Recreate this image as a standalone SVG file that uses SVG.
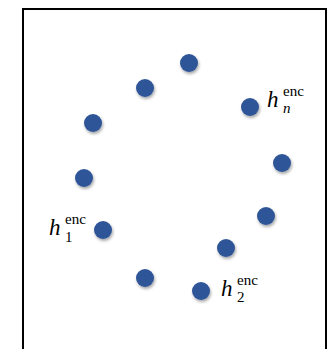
<svg xmlns="http://www.w3.org/2000/svg" width="331" height="349" viewBox="0 0 331 349">
<defs>
<filter id="sh" x="-50%" y="-50%" width="200%" height="200%">
<feDropShadow dx="1" dy="2" stdDeviation="1.5" flood-color="#000" flood-opacity="0.35"/>
</filter>
<style>
.dot{fill:#2F5597;filter:url(#sh)}
.frame{fill:none;stroke:#000;stroke-width:2}
text{font-family:'Liberation Serif','DejaVu Serif','Times New Roman',serif;fill:#000}
.h{font-style:italic;font-size:23px}
.sup{font-size:15px}
.subi{font-style:italic;font-size:15px}
.sub{font-size:15px}
</style>
</defs>
<rect width="331" height="349" fill="#fff"/>
<path class="frame" d="M23,352 V9 H326 V352"/>
<g id="connectors"/>
<g id="n1"><circle class="dot" cx="189" cy="63" r="9"/></g>
<g id="n2"><circle class="dot" cx="145" cy="88" r="9"/></g>
<g id="n3"><circle class="dot" cx="93" cy="123" r="9"/></g>
<g id="hn"><circle class="dot" cx="250" cy="107" r="9"/>
<text class="h" x="267" y="107">h</text><text class="sup" x="283" y="96">enc</text><text class="subi" x="283" y="113">n</text></g>
<g id="n5"><circle class="dot" cx="282" cy="163" r="9"/></g>
<g id="n6"><circle class="dot" cx="84" cy="178" r="9"/></g>
<g id="n7"><circle class="dot" cx="266" cy="216" r="9"/></g>
<g id="h1"><circle class="dot" cx="103" cy="230" r="9"/>
<text class="h" x="49" y="235">h</text><text class="sup" x="65" y="224">enc</text><text class="sub" x="65" y="242">1</text></g>
<g id="n9"><circle class="dot" cx="226" cy="248" r="9"/></g>
<g id="n10"><circle class="dot" cx="145" cy="278" r="9"/></g>
<g id="h2"><circle class="dot" cx="201" cy="291" r="9"/>
<text class="h" x="221" y="296">h</text><text class="sup" x="237" y="285">enc</text><text class="sub" x="237" y="302">2</text></g>
</svg>
